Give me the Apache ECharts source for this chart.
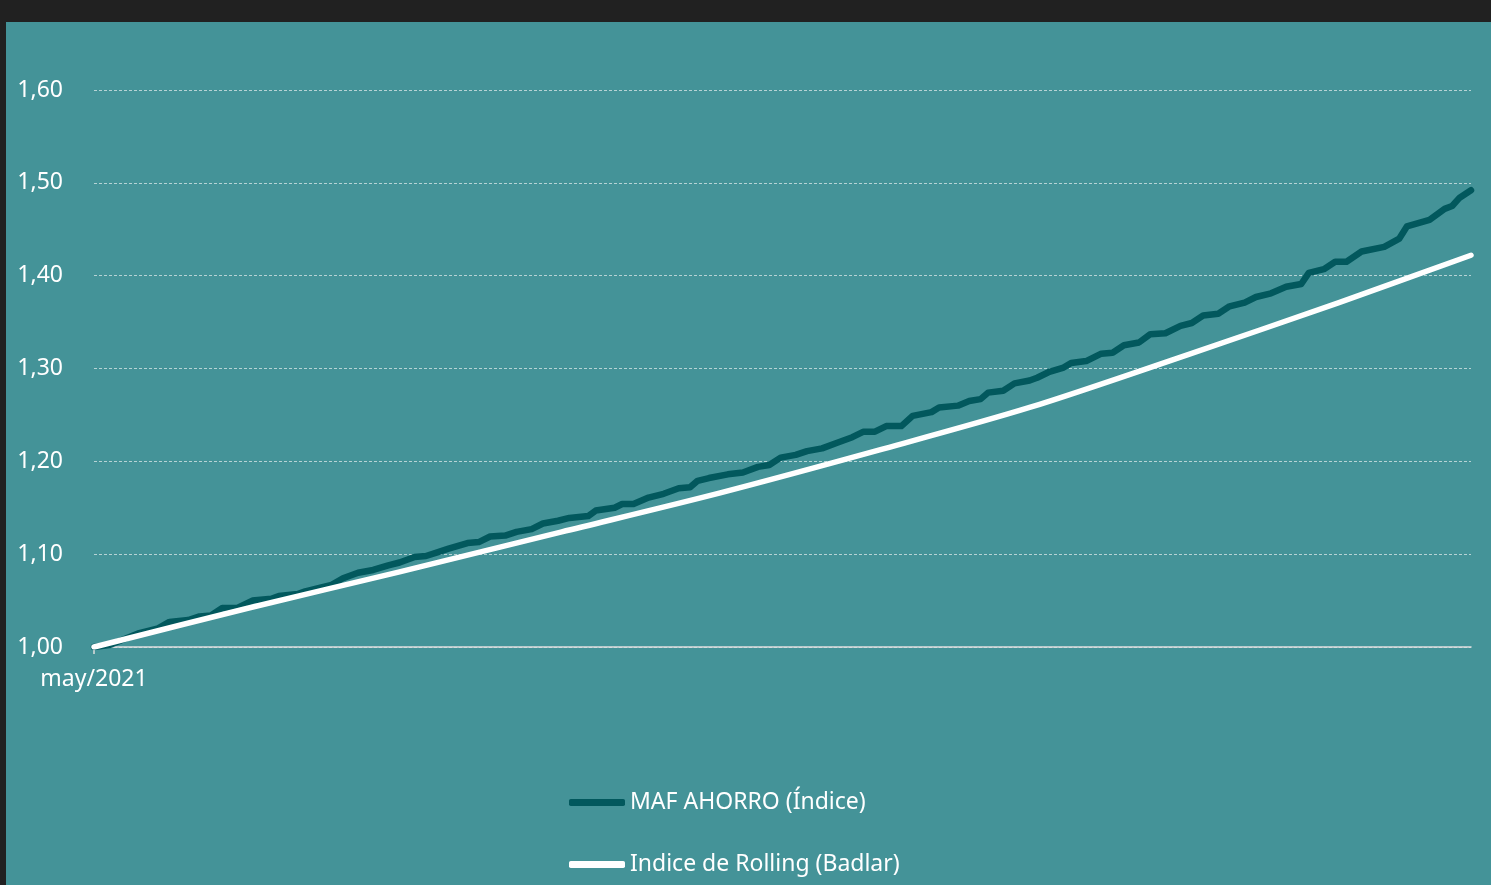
<!DOCTYPE html>
<html>
<head>
<meta charset="utf-8">
<script src="https://cdn.jsdelivr.net/npm/echarts@6/dist/echarts.min.js"></script>
<style>
  html, body { margin: 0; padding: 0; background: #212121; width: 1491px; height: 885px; overflow: hidden; }
  #chart { position: absolute; left: 6px; top: 22px; width: 1485px; height: 863px; background: #449398; }
</style>
</head>
<body>
<div id="chart"></div>
<script>
// Days since 2021-05-01
const mafDays = [
  0,4,12,17,20,25,28,31,34,38,
  42,47,49,54,56,60,63,66,70,74,
  78,81,85,88,91,94,99,102,105,109,
  112,116,119,123,126,131,133,138,140,143,
  147,151,155,158,160,163,168,172,176,179,
  182,186,189,193,197,201,204,207,210,214,
  217,222,224,229,232,235,237,241,244,248,
  250,253,257,259,263,267,270,273,277,280,
  284,288,291,294,298,301,305,308,312,316,
  320,322,326,329,332,336,342,346,348,354,
  358,360,362,365
];
const mafValues = [
  1.000,1.002,1.015,1.020,1.027,1.029,1.033,1.034,1.042,1.042,
  1.050,1.052,1.055,1.057,1.060,1.064,1.067,1.074,1.080,1.083,
  1.088,1.091,1.097,1.098,1.102,1.106,1.112,1.113,1.119,1.120,
  1.124,1.127,1.133,1.136,1.139,1.141,1.147,1.150,1.154,1.154,
  1.161,1.165,1.171,1.172,1.179,1.182,1.186,1.188,1.194,1.196,
  1.204,1.207,1.211,1.214,1.220,1.226,1.232,1.232,1.238,1.238,
  1.249,1.253,1.258,1.260,1.265,1.267,1.274,1.276,1.284,1.287,
  1.290,1.296,1.301,1.306,1.308,1.316,1.317,1.325,1.328,1.337,
  1.338,1.346,1.349,1.357,1.359,1.367,1.371,1.377,1.381,1.388,
  1.391,1.403,1.407,1.415,1.415,1.426,1.431,1.440,1.453,1.460,
  1.472,1.475,1.484,1.492
];
const rollingDays = [0,41,81,124,166,208,248,290,330,365];
const rollingValues = [1.000,1.042,1.081,1.124,1.166,1.212,1.258,1.315,1.371,1.422];

const seriesNames = ['MAF AHORRO (Índice)', 'Indice de Rolling (Badlar)'];
const xStartLabel = 'may/2021';
const yTicks = [1.0, 1.1, 1.2, 1.3, 1.4, 1.5, 1.6];

const chart = echarts.init(document.getElementById('chart'));
const font = '"Noto Sans", sans-serif';

function legendFor(name, top) {
  return {
    left: 563,
    top: top,
    padding: 0,
    itemWidth: 56,
    itemHeight: 7,
    icon: 'roundRect',
    textStyle: { color: '#ffffff', fontSize: 23, fontFamily: font },
    data: [name]
  };
}

chart.setOption({
  backgroundColor: '#449398',
  animation: false,
  grid: { left: 88, right: 20, top: 68, bottom: 238 },
  legend: [legendFor(seriesNames[0], 769), legendFor(seriesNames[1], 831)],
  xAxis: {
    type: 'value',
    min: 0,
    max: 365,
    interval: 400,
    splitLine: { show: false },
    axisLine: { show: true, lineStyle: { color: '#dedede', width: 1.5 } },
    axisTick: { show: true, length: 7, lineStyle: { color: '#dedede', width: 1.5 } },
    axisLabel: {
      color: '#ffffff', fontSize: 23, fontFamily: font, margin: 21,
      showMaxLabel: false,
      formatter: v => v === 0 ? xStartLabel : ''
    }
  },
  yAxis: {
    type: 'value',
    min: yTicks[0],
    max: yTicks[yTicks.length - 1],
    interval: 0.1,
    axisLine: { show: false },
    axisTick: { show: false },
    splitLine: { show: true, lineStyle: { color: 'rgba(220,232,233,0.75)', type: [3, 2], width: 1 } },
    axisLabel: {
      color: '#ffffff', fontSize: 23, fontFamily: font, margin: 31,
      formatter: v => v.toFixed(2).replace('.', ',')
    }
  },
  series: [
    {
      name: seriesNames[0],
      type: 'line',
      showSymbol: false,
      symbol: 'none',
      data: mafDays.map((d, i) => [d, mafValues[i]]),
      itemStyle: { color: '#02585d' },
      lineStyle: { color: '#02585d', width: 6.5, cap: 'round', join: 'round' }
    },
    {
      name: seriesNames[1],
      type: 'line',
      showSymbol: false,
      symbol: 'none',
      smooth: 0.3,
      data: rollingDays.map((d, i) => [d, rollingValues[i]]),
      itemStyle: { color: '#ffffff' },
      lineStyle: { color: '#ffffff', width: 5.5, cap: 'round', join: 'round' }
    }
  ]
});
</script>
</body>
</html>
